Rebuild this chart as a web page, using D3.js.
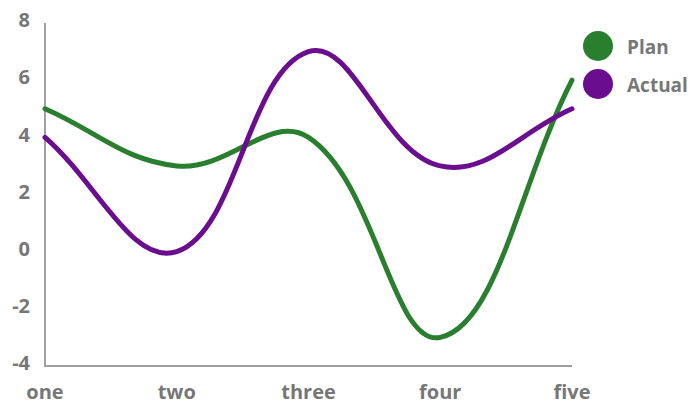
<!DOCTYPE html>
<html><head><meta charset="utf-8">
<script src="https://cdn.jsdelivr.net/npm/d3@7"></script>
<style>body{margin:0;background:#fff}svg{display:block}</style>
</head><body>
<svg id="c" width="691" height="407"></svg>
<script>
const categories = ["one","two","three","four","five"];
const planValues = [5,3,4,-3,6];
const actualValues = [4,0,7,3,5];
const yTicks = [-4,-2,0,2,4,6,8];
const seriesNames = ["Plan","Actual"];
const seriesColors = ["#2a7f2f","#6a0d8f"];

const svg = d3.select("#c");
const x = d3.scalePoint().domain(categories).range([45,572]);
const y = d3.scaleLinear().domain([-4,8]).range([366,23]);
const gray = "#a0a0a0", txt = "#777777";

svg.append("line").attr("x1",45).attr("x2",45).attr("y1",23).attr("y2",367).attr("stroke",gray).attr("stroke-width",2);
svg.append("line").attr("x1",45).attr("x2",572).attr("y1",366).attr("y2",366).attr("stroke",gray).attr("stroke-width",2);

svg.selectAll("text.yt").data(yTicks).enter().append("text")
  .attr("x",30).attr("y",d=>y(d)-3).attr("dy","0.36em").attr("text-anchor","end")
  .attr("font-family","Open Sans").attr("font-weight","bold").attr("font-size",20).attr("fill",txt).text(d=>d);
svg.selectAll("text.xt").data(categories).enter().append("text")
  .attr("x",d=>x(d)).attr("y",399).attr("text-anchor","middle")
  .attr("font-family","Open Sans").attr("font-weight","bold").attr("font-size",20).attr("fill",txt).text(d=>d);

// spline curve (tension-based bezier control points)
function splineCurve(tension){
  return function(ctx){
    let pts = [];
    return {
      areaStart(){}, areaEnd(){},
      lineStart(){ pts = []; },
      point(px,py){ pts.push([+px,+py]); },
      lineEnd(){
        const n = pts.length;
        if(!n) return;
        const cps = pts.map((cur,i)=>{
          const prev = pts[Math.max(0,i-1)], next = pts[Math.min(n-1,i+1)];
          const d01 = Math.hypot(cur[0]-prev[0],cur[1]-prev[1]);
          const d12 = Math.hypot(next[0]-cur[0],next[1]-cur[1]);
          let s01 = d01/(d01+d12), s12 = d12/(d01+d12);
          if(!isFinite(s01)) s01 = 0; if(!isFinite(s12)) s12 = 0;
          const fa = tension*s01, fb = tension*s12;
          return {
            p:[cur[0]-fa*(next[0]-prev[0]), cur[1]-fa*(next[1]-prev[1])],
            n:[cur[0]+fb*(next[0]-prev[0]), cur[1]+fb*(next[1]-prev[1])]
          };
        });
        ctx.moveTo(pts[0][0],pts[0][1]);
        for(let i=0;i<n-1;i++){
          const a = cps[i].n, b = cps[i+1].p;
          ctx.bezierCurveTo(a[0],a[1],b[0],b[1],pts[i+1][0],pts[i+1][1]);
        }
      }
    };
  };
}

const line = d3.line().x((d,i)=>x(categories[i])).y(d=>y(d)).curve(splineCurve(0.4));
[planValues, actualValues].forEach((vals,k)=>{
  svg.append("path").attr("d",line(vals)).attr("fill","none").attr("stroke",seriesColors[k]).attr("stroke-width",5).attr("stroke-linecap","round");
});

seriesNames.forEach((n,k)=>{
  svg.append("circle").attr("cx",598).attr("cy",46+k*38).attr("r",15).attr("fill",seriesColors[k]);
  svg.append("text").attr("x",627).attr("y",47+k*38).attr("dy","0.35em")
    .attr("font-family","Open Sans").attr("font-weight","bold").attr("font-size",19).attr("fill",txt).text(n);
});
</script>
</body></html>
